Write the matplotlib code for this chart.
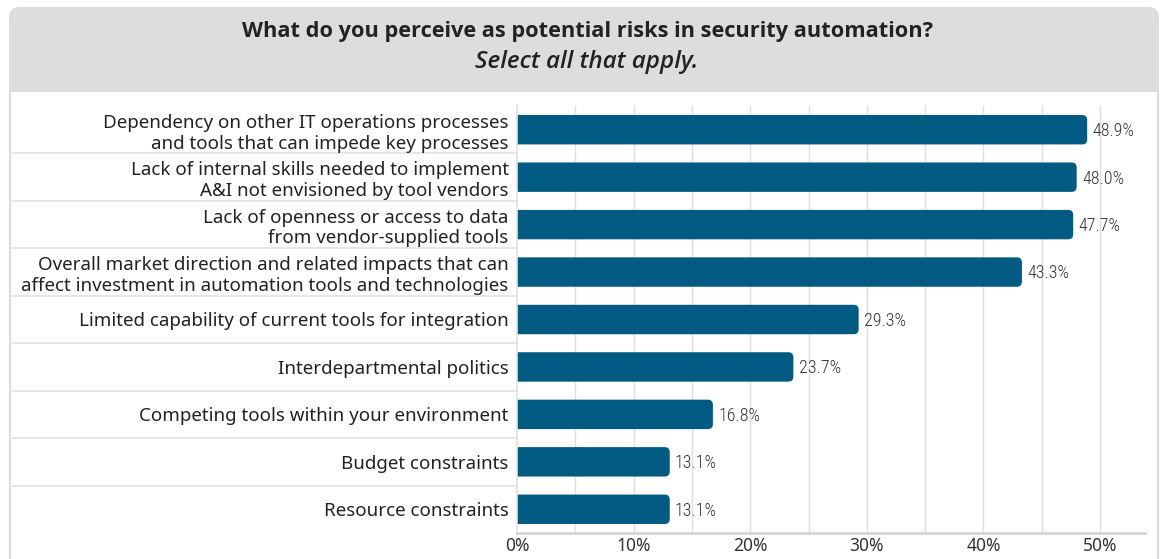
import numpy as np
import matplotlib as mpl
import matplotlib.pyplot as plt
from matplotlib.patches import FancyBboxPatch, Rectangle
import matplotlib.font_manager as fm

## Data
categories = [
	"Dependency on other IT operations processes\nand tools that can impede key processes",
	"Lack of internal skills needed to implement\nA&I not envisioned by tool vendors",
	"Lack of openness or access to data\nfrom vendor-supplied tools",
	"Overall market direction and related impacts that can\naffect investment in automation tools and technologies",
	"Limited capability of current tools for integration",
	"Interdepartmental politics",
	"Competing tools within your environment",
	"Budget constraints",
	"Resource constraints",
]
values = [48.9, 48.0, 47.7, 43.3, 29.3, 23.7, 16.8, 13.1, 13.1]
xticks = [0, 10, 20, 30, 40, 50]
title = "What do you perceive as potential risks in security automation?"
subtitle = "Select all that apply."

## Styles
bar_color = "#005A82"
grid_color = "#DEDEDE"
text_color = "#222222"
fams = set( f.name for f in fm.fontManager.ttflist )
narrow = "Roboto Condensed" if "Roboto Condensed" in fams else "DejaVu Sans"
mpl.rcParams['font.family'] = ["Noto Sans", "DejaVu Sans"]

W, H = 1168, 559
fig = plt.figure( figsize = (W/100, H/100), dpi = 100 )

## Background frame (header box + white panel)
bg = fig.add_axes( [0, 0, 1, 1] )
bg.set_xlim( 0, W ); bg.set_ylim( H, 0 ); bg.axis("off")
bg.add_patch( FancyBboxPatch( (10, 8), 1148, 600, boxstyle = "round,pad=0,rounding_size=10",
	facecolor = "white", edgecolor = "#DCDCDC", linewidth = 1.5 ) )
bg.add_patch( FancyBboxPatch( (10, 8), 1148, 120, boxstyle = "round,pad=0,rounding_size=10",
	facecolor = "#DCDDDE", edgecolor = "none" ) )
bg.add_patch( Rectangle( (10, 92), 1148, 60, facecolor = "white", edgecolor = "none" ) )
bg.plot( [10, 10], [92, H], color = "#DCDCDC", lw = 1.5 )
bg.plot( [1158, 1158], [92, H], color = "#DCDCDC", lw = 1.5 )
bg.text( W/2 + 3, 31, title, ha = "center", va = "center", fontsize = 15.7, fontweight = "bold",
	family = ["Open Sans", "DejaVu Sans"], color = text_color )
bg.text( W/2 + 3, 62, subtitle, ha = "center", va = "center", fontsize = 17.5, fontstyle = "italic",
	fontweight = "semibold", family = ["Open Sans", "DejaVu Sans"], color = text_color )

## Separators between label rows
x0, x1 = 517, 1145
ytop, ybot = 106, 533
step = (ybot - ytop) / len(categories)
for i in range(1, len(categories)):
	yy = ytop + i*step
	bg.plot( [10, x0], [yy, yy], color = "#E2E2E2", lw = 1.2 )

## Chart axes
ax = fig.add_axes( [x0/W, 1 - ybot/H, (x1 - x0)/W, (ybot - ytop)/H] )
xmax = 50 * (x1 - x0) / (1100 - x0)
ax.set_xlim( 0, xmax )
ax.set_ylim( len(categories) - 0.5, -0.5 )
ax.patch.set_alpha(0)

for g in np.arange(5, 55, 5):
	ax.axvline( g, color = grid_color, lw = 1, zorder = 0 )

bh = 0.62
# rounding: ~5px, left end hidden behind the axis clip
px_x = xmax / (x1 - x0)
px_y = len(categories) / (ybot - ytop)
r = 5 * px_x
for i, v in enumerate(values):
	ax.add_patch( FancyBboxPatch( (-2, i - bh/2), v + 2, bh, boxstyle = "round,pad=0,rounding_size=%f" % r,
		mutation_aspect = px_y/px_x, facecolor = bar_color, edgecolor = "none", zorder = 2 ) )
	ax.text( v + 0.45, i + 0.03, "%.1f%%" % v, va = "center", ha = "left", fontsize = 13,
		family = narrow, fontweight = "light", color = "#333333", zorder = 3 )

ax.set_yticks( range(len(categories)) )
ax.set_yticklabels( categories, fontsize = 13.5, color = text_color, linespacing = 1.2 )
ax.set_xticks( xticks )
ax.set_xticklabels( ["%d%%" % t for t in xticks], fontsize = 12.5, color = "#333333" )
ax.tick_params( axis = "both", length = 0 )
ax.tick_params( axis = "y", pad = 6 )
ax.tick_params( axis = "x", pad = 3 )
for s in ["top", "right"]:
	ax.spines[s].set_visible(False)
ax.spines["left"].set_color("#E2E2E2")
ax.spines["left"].set_linewidth(1.2)
ax.spines["bottom"].set_color("#D5D5D5")
ax.spines["bottom"].set_linewidth(2)

plt.savefig( "out.png", dpi = 100 )
plt.close(fig)
